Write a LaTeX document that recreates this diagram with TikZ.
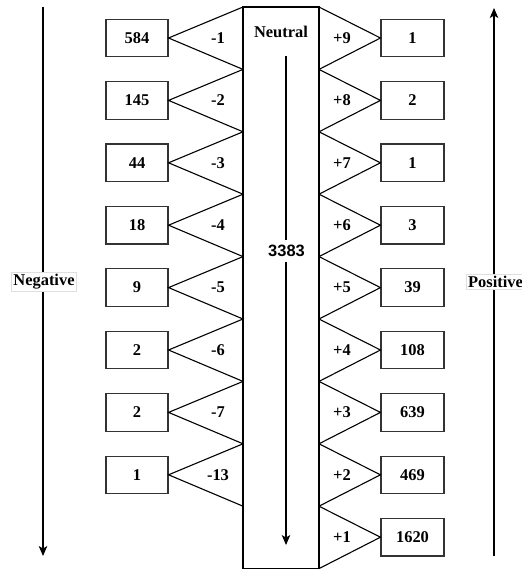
\documentclass[tikz,border=0pt]{standalone}
\usepackage{fontspec}
\setmainfont{Liberation Serif}
\setsansfont{Liberation Sans}
\usetikzlibrary{arrows.meta}
\begin{document}
\begin{tikzpicture}[x=1bp,y=-1bp,line width=1.1bp,
  txt/.style={font=\fontsize{16.5}{20}\selectfont\bfseries,inner sep=0pt},
  numbox/.style={txt,draw=black!80,minimum height=37.5bp},
  leftbox/.style={numbox,minimum width=62bp},
  rightbox/.style={numbox,minimum width=63bp},
  axlab/.style={txt,fill=white,draw=gray!25,line width=0.6bp,inner sep=2bp},
  arr/.style={-{Stealth[length=10bp,width=8.5bp,inset=2.5bp]}}]
\useasboundingbox (0,0) rectangle (522,572);
% central column
\node[draw,minimum width=76bp,minimum height=561.6bp,inner sep=0pt] (main) at (281,287.8) {};
\node[txt] (neutral) at (281,32) {Neutral};
\coordinate (ctop) at (286,56);
\coordinate (cbot) at (286,545);
\draw[arr] (ctop) -- (cbot);
\node[txt,font=\fontsize{16.5}{20}\selectfont\sffamily\bfseries,fill=white,inner ysep=5bp,inner xsep=1bp] (total) at (286.5,251) {3383};
% left side
\foreach \v/\l [count=\i from 0] in {584/-1,145/-2,44/-3,18/-4,9/-5,2/-6,2/-7,1/-13}{
  \pgfmathsetmacro{\yc}{38+62.4*\i}
  \pgfmathsetmacro{\yt}{7+62.4*\i}
  \pgfmathsetmacro{\yb}{7+62.4*(\i+1)}
  \node[leftbox] (L\i) at (137,\yc) {\v};
  \coordinate (Lt\i) at (243,\yt);
  \coordinate (Lb\i) at (243,\yb);
  \draw (Lt\i) -- (L\i.east) -- (Lb\i);
  \node[txt] (Ll\i) at (218,\yc) {\l};
}
% right side
\foreach \v/\l [count=\i from 0] in {1/+9,2/+8,1/+7,3/+6,39/+5,108/+4,639/+3,469/+2,1620/+1}{
  \pgfmathsetmacro{\yc}{38+62.4*\i}
  \pgfmathsetmacro{\yt}{7+62.4*\i}
  \pgfmathsetmacro{\yb}{7+62.4*(\i+1)}
  \node[rightbox] (R\i) at (412.5,\yc) {\v};
  \coordinate (Rt\i) at (319,\yt);
  \coordinate (Rb\i) at (319,\yb);
  \draw (Rt\i) -- (R\i.west) -- (Rb\i);
  \node[txt] (Rl\i) at (342,\yc) {\l};
}
% axes
\coordinate (ntop) at (43,7);
\coordinate (nbot) at (43,556);
\draw[arr] (ntop) -- (nbot);
\node[axlab] (neg) at (44,282) {Negative};
\coordinate (pbot) at (494,556);
\coordinate (ptop) at (494,8);
\draw[arr] (pbot) -- (ptop);
\node[axlab] (pos) at (495.5,282) {Positive};
\end{tikzpicture}
\end{document}
